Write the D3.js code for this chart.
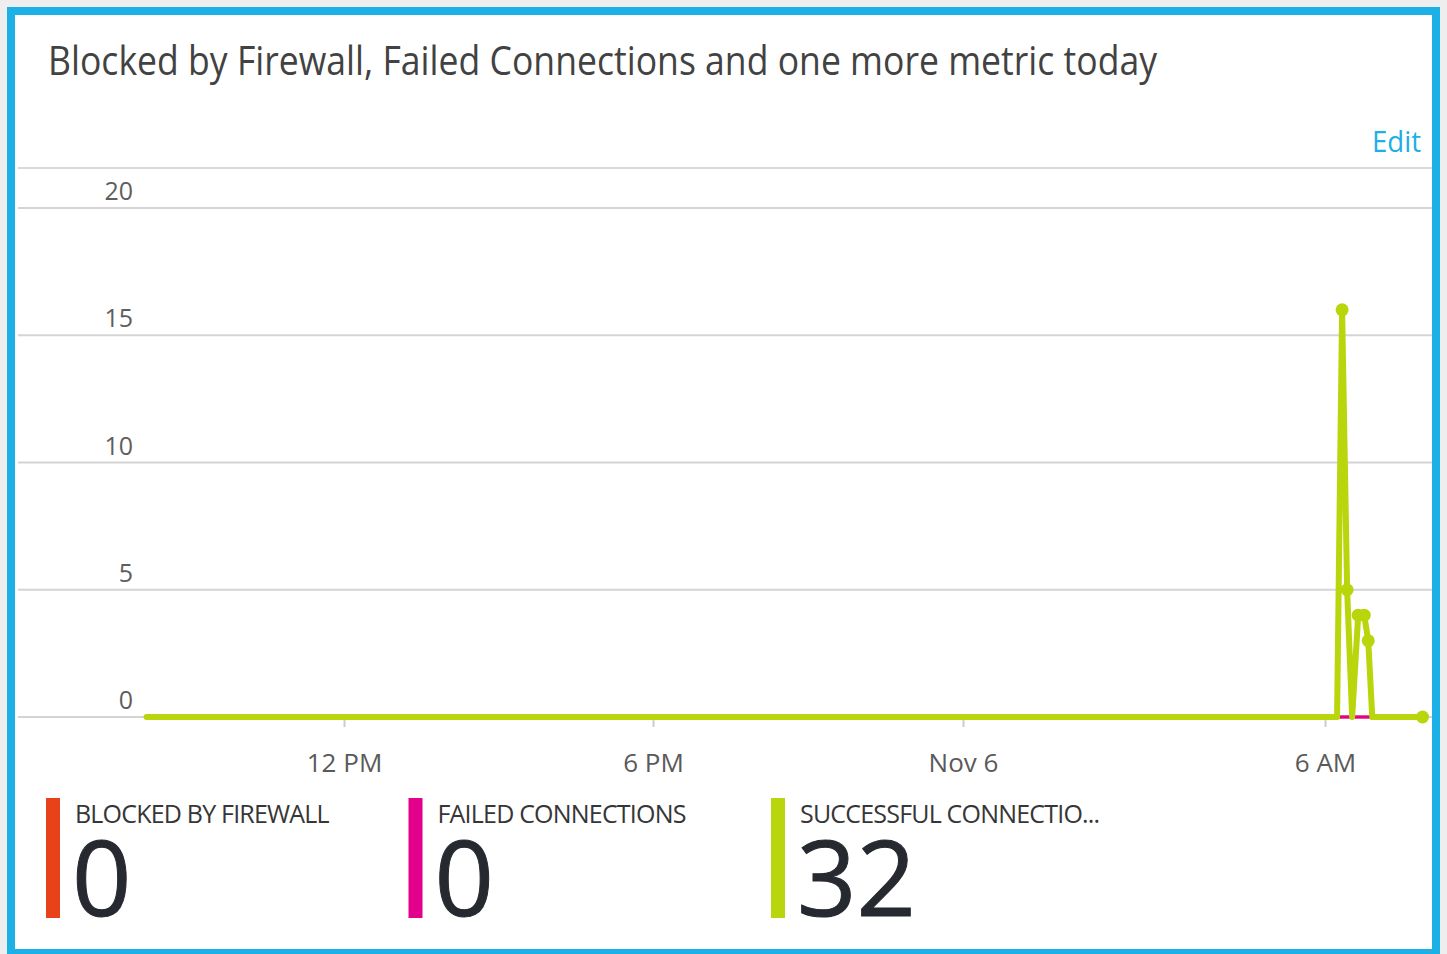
<!DOCTYPE html>
<html>
<head>
<meta charset="utf-8">
<script src="https://cdn.jsdelivr.net/npm/d3@7"></script>
<style>
  html, body { margin: 0; padding: 0; background: #eeeeee; }
  svg { display: block; }
  text { font-family: "Open Sans", "Noto Sans", sans-serif; }
</style>
</head>
<body>
<svg id="chart" width="1447" height="954"></svg>
<script>
// ---- data -------------------------------------------------------------
const titleText = "Blocked by Firewall, Failed Connections and one more metric today";
const editText = "Edit";

// sample timestamps (local time) shared by all three metrics
const sampleTimes = [
  "2015-11-05T08:10", "2015-11-06T06:12", "2015-11-06T06:17", "2015-11-06T06:22",
  "2015-11-06T06:27", "2015-11-06T06:33", "2015-11-06T06:39", "2015-11-06T06:43",
  "2015-11-06T06:47", "2015-11-06T07:37"
];
const blockedValues = [0, 0, 0, 0, 0, 0, 0, 0, 0, 0];
const failedValues  = [0, 0, 0, 0, 0, 0, 0, 0, 0, 0];
const successValues = [0, 0, 16, 5, 0, 4, 4, 3, 0, 0];

const seriesLabels = ["BLOCKED BY FIREWALL", "FAILED CONNECTIONS", "SUCCESSFUL CONNECTIO..."];
const seriesColors = ["#e8421b", "#e3008c", "#b9d50b"];

const yTickValues = [0, 5, 10, 15, 20];
const xTickTimes = ["2015-11-05T12:00", "2015-11-05T18:00", "2015-11-06T00:00", "2015-11-06T06:00"];

// ---- setup ------------------------------------------------------------
const parse = d3.timeParse("%Y-%m-%dT%H:%M");
const svg = d3.select("#chart");

const series = [blockedValues, failedValues, successValues].map((vals, i) => ({
  label: seriesLabels[i],
  color: seriesColors[i],
  points: vals.map((v, j) => ({ t: parse(sampleTimes[j]), v })),
  total: d3.sum(vals)
}));

const plotLeft = 18, plotRight = 1432;

// tile frame
svg.append("rect")
  .attr("x", 11).attr("y", 11)
  .attr("width", 1425).attr("height", 942)
  .attr("fill", "#ffffff")
  .attr("stroke", "#1bb0e6").attr("stroke-width", 8);

// title + edit link
svg.append("text")
  .attr("x", 48).attr("y", 75)
  .attr("font-size", 41)
  .attr("fill", "#424242")
  .attr("textLength", 1109).attr("lengthAdjust", "spacingAndGlyphs")
  .text(titleText);

svg.append("text")
  .attr("x", 1421).attr("y", 152)
  .attr("text-anchor", "end")
  .attr("font-size", 30)
  .attr("fill", "#1bb0e6")
  .attr("textLength", 49).attr("lengthAdjust", "spacingAndGlyphs")
  .text(editText);

// ---- scales -----------------------------------------------------------
const x = d3.scaleTime()
  .domain(xTickTimes.map(parse))
  .range([344, 653, 963, 1325]);

const y = d3.scaleLinear().domain([0, 20]).range([717, 208]);

// top rule of the plot area
svg.append("line")
  .attr("x1", plotLeft).attr("x2", plotRight)
  .attr("y1", 168).attr("y2", 168)
  .attr("stroke", "#d9d9d9").attr("stroke-width", 2);

// horizontal gridlines and value labels
const grid = svg.append("g");
grid.selectAll("line").data(yTickValues).join("line")
  .attr("x1", plotLeft).attr("x2", plotRight)
  .attr("y1", d => y(d)).attr("y2", d => y(d))
  .attr("stroke", "#d4d4d4").attr("stroke-width", 2);
grid.selectAll("text").data(yTickValues).join("text")
  .attr("x", 133).attr("y", d => y(d) - 8)
  .attr("text-anchor", "end")
  .attr("font-size", 25)
  .attr("fill", "#5e5e5e")
  .text(d => d);

// time axis
const timeLabel = d => (d.getHours() === 0 ? d3.timeFormat("%b %-d")(d) : d3.timeFormat("%-I %p")(d));
const xAxis = svg.append("g")
  .attr("transform", `translate(0,${y(0) + 2})`)
  .call(d3.axisBottom(x).tickValues(xTickTimes.map(parse)).tickSize(8).tickFormat(timeLabel));
xAxis.select(".domain").remove();
xAxis.selectAll(".tick line").attr("stroke", "#cccccc").attr("stroke-width", 2);
xAxis.selectAll(".tick text")
  .attr("y", 53).attr("dy", 0)
  .attr("font-size", 26)
  .attr("font-family", "\"Open Sans\", sans-serif")
  .attr("fill", "#5a5a5a");

// ---- series -----------------------------------------------------------
const line = d3.line().x(d => x(d.t)).y(d => y(d.v));
const plot = svg.append("g");

series.forEach((s, i) => {
  plot.append("path")
    .datum(s.points)
    .attr("fill", "none")
    .attr("stroke", s.color)
    .attr("stroke-width", i === 2 ? 6 : 3)
    .attr("stroke-linejoin", "round")
    .attr("stroke-linecap", "round")
    .attr("d", line);
});

// markers on the successful-connection samples that carry a value, plus the latest sample
const succ = series[2];
const marked = succ.points.filter((p, j) => p.v > 0 || j === succ.points.length - 1);
plot.selectAll("circle.marker").data(marked).join("circle")
  .attr("class", "marker")
  .attr("cx", d => x(d.t)).attr("cy", d => y(d.v))
  .attr("r", 6.5)
  .attr("fill", succ.color);

// ---- legend with totals -----------------------------------------------
const legend = svg.append("g");
const items = legend.selectAll("g").data(series).join("g")
  .attr("transform", (d, i) => `translate(${46 + i * 362.5},0)`);

items.append("rect")
  .attr("x", 0).attr("y", 798)
  .attr("width", 14).attr("height", 120)
  .attr("fill", d => d.color);

items.append("text")
  .attr("x", 29).attr("y", 823)
  .attr("font-size", 25)
  .attr("letter-spacing", "-0.8")
  .attr("fill", "#363636")
  .text(d => d.label);

items.append("text")
  .attr("x", 26).attr("y", 916)
  .attr("font-size", 104)
  .attr("fill", "#262a30")
  .attr("stroke", "#262a30").attr("stroke-width", 1)
  .text(d => d.total);
</script>
</body>
</html>
